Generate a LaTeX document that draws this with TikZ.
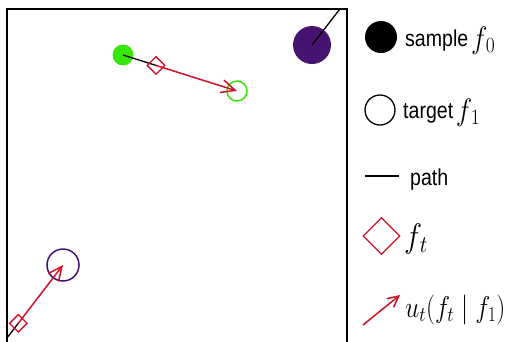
\documentclass[tikz,border=0pt]{standalone}
\usepackage{fix-cm}
\usepackage{fontspec}
\setmainfont{Liberation Sans}
\usetikzlibrary{shapes.geometric,arrows.meta,calc}

\definecolor{flowred}{RGB}{206,17,38}
\definecolor{flowgreen}{RGB}{55,230,10}
\definecolor{flowpurple}{RGB}{70,20,112}

\newcommand{\lgtext}[1]{\scalebox{0.85}[1]{\fontsize{23}{26}\selectfont #1}}
\newcommand{\lgmath}[3][0.9]{\raisebox{-2pt}{\scalebox{#1}[1]{\fontsize{#2}{#2}\selectfont $#3$}}}

\tikzset{
  sampledot/.style={circle, inner sep=0pt, minimum size=#1, fill},
  targetring/.style={circle, inner sep=0pt, minimum size=#1, draw, line width=1.5pt},
  interp/.style={diamond, inner sep=0pt, minimum size=#1, draw=flowred, line width=1.3pt},
  pathline/.style={black, line width=1.3pt},
  velocity/.style={flowred, line width=1.5pt, -{Straight Barb[length=14pt,width=13pt]}},
  legendlabel/.style={anchor=base west, inner sep=0pt},
}

\begin{document}
\begin{tikzpicture}[x=1pt, y=-1pt]
\useasboundingbox (0,0) rectangle (509,341);

% periodic domain
\coordinate (boxnw) at (7,9);
\coordinate (boxse) at (347,347);

% trajectory 1 (green)
\node[sampledot=21pt, flowgreen] (s1) at (123,55) {};
\node[targetring=20pt, draw=flowgreen] (t1) at (237,91) {};
\coordinate (d1pos) at ($(s1.center)!0.29!(t1.center)$);

% trajectory 2 (purple), wrapping around the domain
\node[sampledot=38pt, flowpurple] (s2) at (312,45) {};
\node[targetring=32pt, draw=flowpurple] (t2) at (63,265) {};
\coordinate (d2pos) at (18.3,323.3);
\coordinate (s2exit) at ($(s2.center)+(45*0.8,-58*0.8)$);
\coordinate (d2enter) at ($(d2pos)-(45*0.4,-58*0.4)$);

\begin{scope}
  \clip (boxnw) rectangle (boxse);
  \draw[pathline] (s1.center) -- (d1pos);
  \draw[pathline] (s2.center) -- (s2exit);
  \draw[pathline] (d2enter) -- (d2pos);
\end{scope}

\node[interp=18pt] (d1) at (d1pos) {};
\node[interp=18pt] (d2) at (d2pos) {};
\draw[velocity] (d1.center) -- (t1.center);
\draw[velocity] (d2.center) -- (t2.center);

% frame
\draw[line width=1.4pt] (boxnw) rectangle (boxse);

% legend
\node[sampledot=32pt, black] (lg1) at (381,37) {};
\node[legendlabel] (lt1) at (405,46) {\lgtext{sample} \lgmath{31}{f_{\kern1.5pt 0}}};

\node[targetring=30pt, black, line width=1.3pt] (lg2) at (380,110) {};
\node[legendlabel] (lt2) at (403,118) {\lgtext{target} \lgmath{31}{f_{\kern1.5pt 1}}};

\coordinate (lg3a) at (365,176);
\coordinate (lg3b) at (399,176);
\draw[pathline] (lg3a) -- (lg3b);
\node[legendlabel] (lt3) at (410,185) {\lgtext{path}};

\node[interp=37pt] (lg4) at (381.5,236) {};
\node[legendlabel] (lt4) at (404,245) {\lgmath{34}{f_{\kern1pt t}}};

\coordinate (lg5a) at (363,325);
\coordinate (lg5b) at (400,295);
\draw[velocity, -{Straight Barb[length=11pt,width=11pt]}] (lg5a) -- (lg5b);
\node[legendlabel] (lt5) at (405,315) {\lgmath[0.85]{30}{u_t(f_t \mid f_1)}};
\end{tikzpicture}
\end{document}
